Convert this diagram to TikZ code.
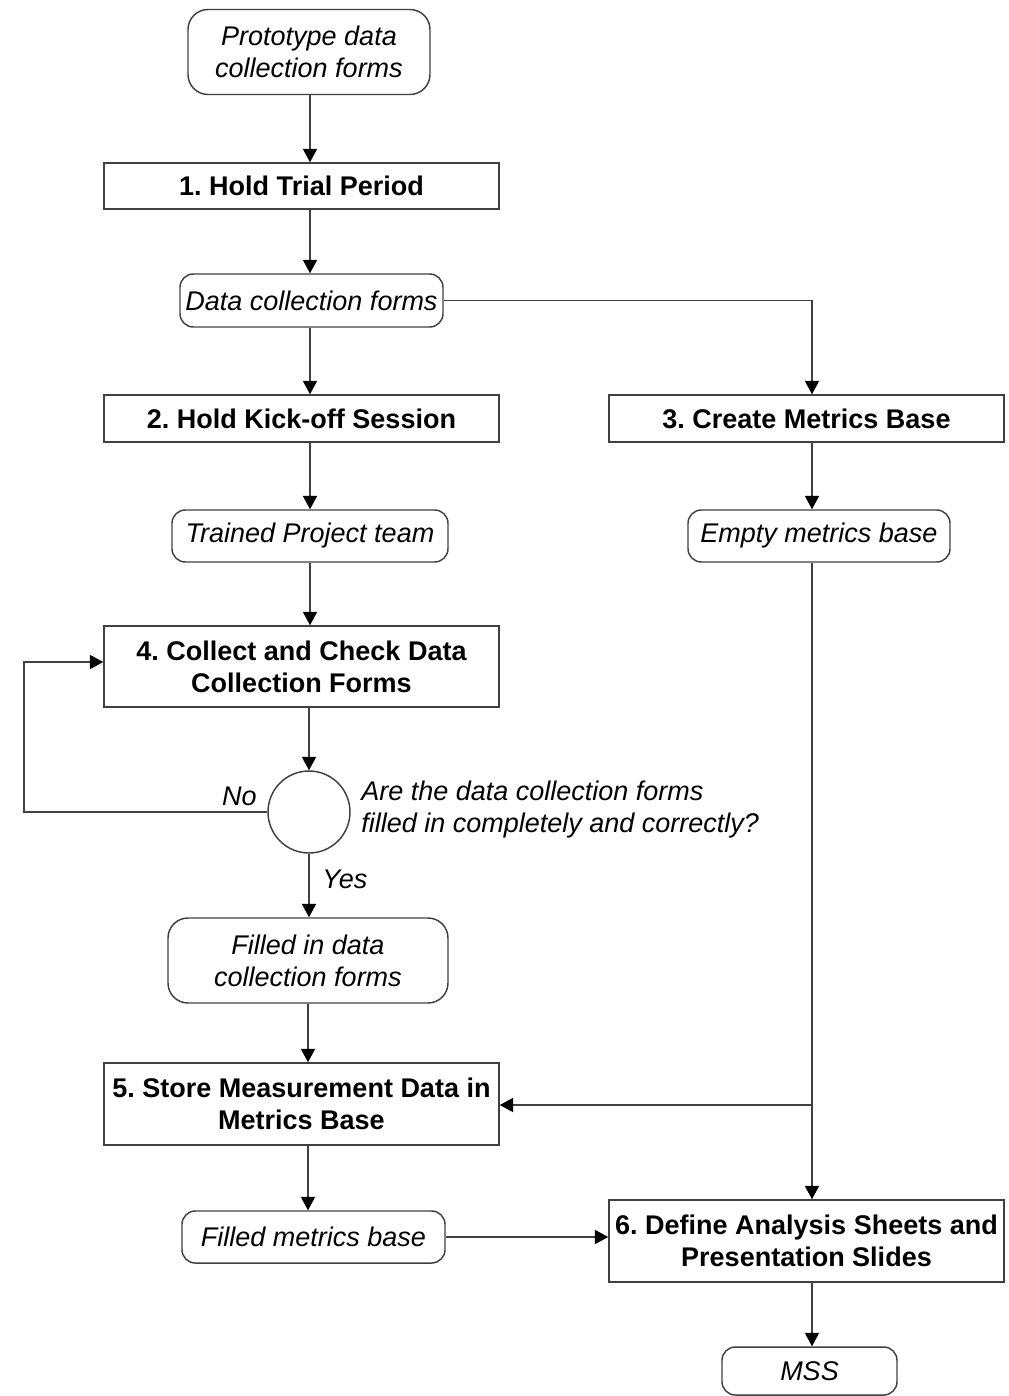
\documentclass[tikz,border=0pt]{standalone}
\usepackage{fontspec}
\setmainfont{Liberation Sans}
\usetikzlibrary{arrows.meta,calc}
\newcommand{\dfont}{\fontsize{20.25pt}{24pt}\selectfont}
\frenchspacing
\begin{document}
\begin{tikzpicture}[x=0.75pt,y=-0.75pt,
  every node/.style={font=\dfont, text=black},
  line/.style={draw=black!75, line width=1.1pt},
  arr/.style={line, -{Triangle[length=10pt,width=10.5pt,color=black]}},
  proc/.style={line, rectangle, inner sep=0pt, align=center, font=\dfont\bfseries, minimum width=395*0.75pt},
  data/.style={line, rectangle, rounded corners=10pt, inner sep=0pt, align=center, font=\dfont\itshape},
  lbl/.style={inner sep=0pt, font=\dfont\itshape},
]
\useasboundingbox (0,0) rectangle (1009,1396);

\node[data, rounded corners=15pt, minimum width=242*0.75pt, minimum height=85*0.75pt] (proto) at (309,52) {Prototype data\\collection forms};
\node[proc, minimum height=46*0.75pt] (b1) at (301.5,186) {1. Hold Trial Period};
\node[data, minimum width=263*0.75pt, minimum height=53*0.75pt] (dcf) at (311.5,300.5) {Data collection forms};
\node[proc, minimum height=47*0.75pt] (b2) at (301.5,418.5) {2. Hold Kick-off Session};
\node[proc, minimum height=47*0.75pt] (b3) at (806.5,418.5) {3. Create Metrics Base};
\node[data, minimum width=276*0.75pt, minimum height=52*0.75pt] (tpt) at (310,536) {Trained Project team};
\node[data, minimum width=262*0.75pt, minimum height=52*0.75pt] (emb) at (819,536) {Empty metrics base};
\node[proc, minimum height=81*0.75pt] (b4) at (301.5,666.5) {4. Collect and Check Data\\Collection Forms};
\node[line, circle, minimum size=82*0.75pt, inner sep=0pt] (dec) at (309,812) {};
\node[lbl, anchor=west, align=left] (q) at (361,810) {Are the data collection forms\\filled in completely and correctly?};
\node[lbl, anchor=east] (no) at (257,796) {No};
\node[lbl, anchor=west] (yes) at (322,879) {Yes};
\node[data, rounded corners=15pt, minimum width=280*0.75pt, minimum height=85*0.75pt] (fdc) at (308,960.5) {Filled in data\\collection forms};
\node[proc, minimum height=82*0.75pt] (b5) at (301.5,1104) {5. Store Measurement Data in\\Metrics Base};
\node[proc, minimum height=82*0.75pt] (b6) at (806.5,1241) {6. Define Analysis Sheets and\\Presentation Slides};
\node[data, minimum width=263*0.75pt, minimum height=52*0.75pt] (fmb) at (313.5,1237) {Filled metrics base};
\node[data, minimum width=175*0.75pt, minimum height=48*0.75pt] (mss) at (809.5,1371) {MSS};

\coordinate (lc) at (310,0);
\coordinate (rc) at (812,0);
\coordinate (lp) at (24,662);
\coordinate (br) at (812,1105);

\draw[arr] (lc |- proto.south) -- (lc |- b1.north);
\draw[arr] (lc |- b1.south) -- (lc |- dcf.north);
\draw[arr] (dcf.east) -| (rc |- b3.north);
\draw[arr] (lc |- dcf.south) -- (lc |- b2.north);
\draw[arr] (rc |- b3.south) -- (rc |- emb.north);
\draw[arr] (lc |- b2.south) -- (lc |- tpt.north);
\draw[arr] (lc |- tpt.south) -- (lc |- b4.north);
\draw[arr] (dec |- b4.south) -- (dec.north);
\draw[arr] (dec.west) -| (lp) -- (lp -| b4.west);
\draw[arr] (dec.south) -- (dec |- fdc.north);
\draw[arr] (fdc.south) -- (fdc |- b5.north);
\draw[arr] (rc |- emb.south) -- (rc |- b6.north);
\draw[arr] (br) -- (br -| b5.east);
\draw[arr] (fdc |- b5.south) -- (fdc |- fmb.north);
\draw[arr] (fmb.east) -- (fmb.east -| b6.west);
\draw[arr] (rc |- b6.south) -- (rc |- mss.north);
\end{tikzpicture}
\end{document}
